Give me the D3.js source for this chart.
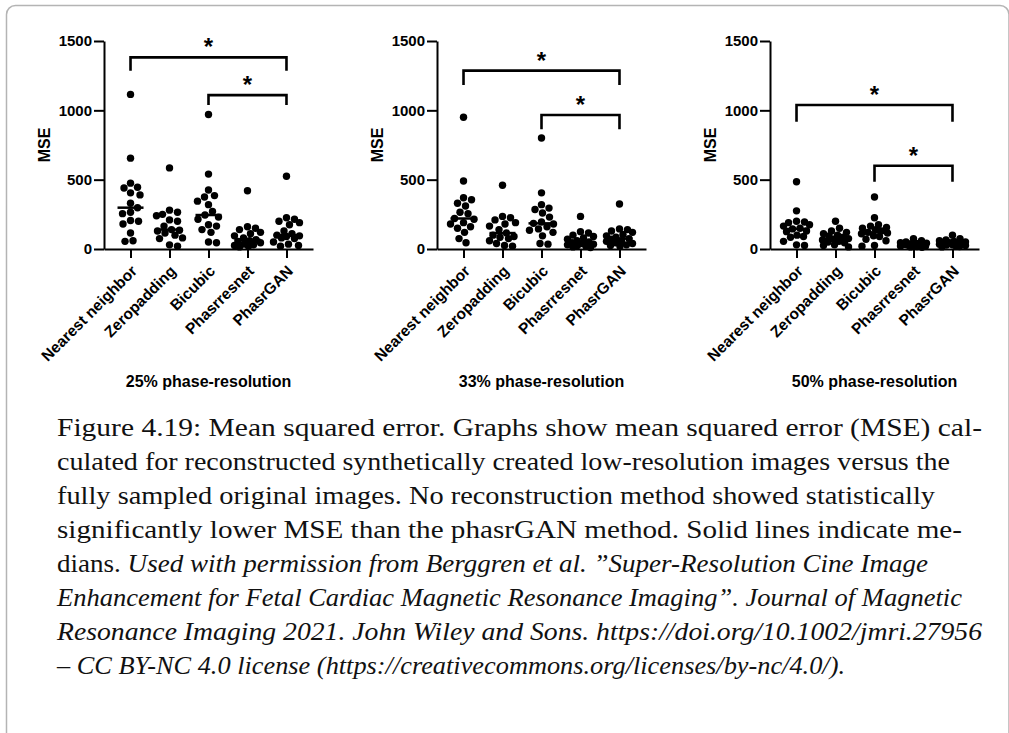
<!DOCTYPE html>
<html>
<head>
<meta charset="utf-8">
<script src="https://cdn.jsdelivr.net/npm/d3@7"></script>
<style>
  html, body { margin: 0; padding: 0; background: #fff; }
  svg { display: block; }
</style>
</head>
<body>
<svg id="fig" width="1009" height="733"></svg>
<script>
// Methods compared in every panel
const categories = ["Nearest neighbor", "Zeropadding", "Bicubic", "Phasrresnet", "PhasrGAN"];
const panelTitles = ["25% phase-resolution", "33% phase-resolution", "50% phase-resolution"];
const yTicks = [0, 500, 1000, 1500];

// MSE per subject, one inner array per method (same order as categories)
const mse25 = [
  [1115, 655, 475, 445, 440, 405, 390, 330, 298, 265, 255, 205, 200, 180, 115, 60, 55],
  [585, 280, 265, 250, 240, 210, 200, 165, 140, 135, 130, 115, 100, 80, 75, 30, 20],
  [970, 540, 425, 385, 375, 345, 320, 270, 245, 230, 215, 175, 165, 140, 120, 50, 45],
  [420, 160, 150, 140, 120, 110, 95, 80, 67, 60, 55, 45, 35, 30, 25, 20, 15],
  [525, 225, 215, 200, 190, 175, 130, 110, 100, 95, 90, 80, 75, 50, 35, 25, 20]
];
const mse33 = [
  [950, 490, 370, 355, 330, 310, 265, 255, 220, 215, 190, 180, 160, 150, 120, 75, 45],
  [460, 235, 225, 210, 190, 180, 165, 140, 115, 100, 90, 85, 75, 60, 40, 25, 20],
  [800, 405, 320, 295, 285, 260, 230, 195, 185, 180, 160, 145, 135, 120, 95, 40, 35],
  [235, 125, 115, 100, 90, 80, 70, 60, 50, 45, 40, 35, 30, 25, 20, 15, 10],
  [325, 145, 140, 130, 120, 105, 95, 85, 75, 70, 60, 55, 45, 40, 30, 25, 20]
];
const mse50 = [
  [485, 275, 200, 195, 190, 175, 165, 150, 145, 130, 125, 100, 90, 85, 55, 30, 25],
  [200, 150, 130, 120, 110, 100, 95, 85, 75, 70, 65, 55, 50, 45, 30, 25, 15],
  [375, 225, 175, 165, 155, 150, 140, 130, 120, 115, 110, 95, 90, 70, 60, 25, 20],
  [75, 60, 50, 45, 42, 40, 38, 35, 32, 30, 28, 25, 22, 20, 18, 15, 12],
  [100, 75, 65, 60, 55, 50, 45, 42, 40, 37, 35, 30, 28, 25, 22, 18, 15]
];

// Significant comparisons (category indices) and their bracket levels [top, leg end] in MSE units
const sigPairs = [[0, 4], [2, 4]];
const brackets25 = [[1382, 1286], [1110, 1038]];
const brackets33 = [[1286, 1182], [966, 863]];
const brackets50 = [[1038, 918], [600, 485]];

const captionLines = [
  [{t: "Figure 4.19: Mean squared error. Graphs show mean squared error (MSE) cal-"}],
  [{t: "culated for reconstructed synthetically created low-resolution images versus the"}],
  [{t: "fully sampled original images. No reconstruction method showed statistically"}],
  [{t: "significantly lower MSE than the phasrGAN method. Solid lines indicate me-"}],
  [{t: "dians. "}, {t: "Used with permission from Berggren et al. \u201DSuper-Resolution Cine Image", i: true}],
  [{t: "Enhancement for Fetal Cardiac Magnetic Resonance Imaging\u201D. Journal of Magnetic", i: true}],
  [{t: "Resonance Imaging 2021. John Wiley and Sons. https://doi.org/10.1002/jmri.27956", i: true}],
  [{t: "\u2013 CC BY-NC 4.0 license (https://creativecommons.org/licenses/by-nc/4.0/).", i: true}]
];
const captionEnds = [982, 950, 935, 962, 928, 962, 982, 845];

const panels = [
  {data: mse25, brackets: brackets25, title: panelTitles[0]},
  {data: mse33, brackets: brackets33, title: panelTitles[1]},
  {data: mse50, brackets: brackets50, title: panelTitles[2]}
];

const svg = d3.select("#fig");
const sans = "'Liberation Sans', Arial, sans-serif";

// Page frame
svg.append("rect")
  .attr("x", 6.5).attr("y", 5.5)
  .attr("width", 1002.5).attr("height", 760)
  .attr("rx", 9)
  .attr("fill", "none")
  .attr("stroke", "#b4b4b4")
  .attr("stroke-width", 1.5);

const plotW = 209, yTop = 41, yBottom = 249;
const r = 3.7;
const maxOff = 13;

// Deterministic swarm layout: spreads overlapping points sideways within a fixed band
function swarm(values, cx, y) {
  const sorted = values.map(v => ({v, cy: y(v)})).sort((a, b) => b.v - a.v);
  const placed = [];
  const minD = 2 * r + 0.6;
  const cands = [0];
  for (let s = 0.5; s <= maxOff; s += 0.5) cands.push(s, -s);
  for (const p of sorted) {
    let best = 0, bestD = -1;
    for (const c of cands) {
      const d = placed.length
        ? d3.min(placed, q => Math.hypot(q.cx - (cx + c), q.cy - p.cy))
        : Infinity;
      if (d >= minD) { best = c; bestD = d; break; }
      if (d > bestD) { bestD = d; best = c; }
    }
    p.cx = cx + best;
    placed.push(p);
  }
  return placed;
}

panels.forEach((panel, pi) => {
  const x0 = 104 + pi * 333;
  const g = svg.append("g");

  const x = d3.scalePoint().domain(categories).range([x0, x0 + plotW]).padding(0.68);
  const y = d3.scaleLinear().domain([0, 1500]).range([yBottom, yTop]);

  // y axis
  const ya = g.append("g")
    .attr("transform", `translate(${x0},0)`)
    .call(d3.axisLeft(y).tickValues(yTicks).tickFormat(d3.format("d"))
      .tickSize(10).tickSizeOuter(0).tickPadding(2));
  ya.select(".domain").attr("stroke-width", 2);
  ya.selectAll(".tick line").attr("stroke-width", 2);
  ya.selectAll(".tick text")
    .attr("font-family", sans).attr("font-weight", "bold").attr("font-size", 15).attr("fill", "#000");

  // x axis
  const xa = g.append("g")
    .attr("transform", `translate(0,${yBottom})`)
    .call(d3.axisBottom(x).tickSize(9).tickSizeOuter(0));
  xa.select(".domain").attr("stroke-width", 2);
  xa.selectAll(".tick line").attr("stroke-width", 2);
  xa.selectAll(".tick text")
    .attr("font-family", sans).attr("font-weight", "bold").attr("font-size", 15.5).attr("fill", "#000")
    .attr("x", 0).attr("y", 0).attr("dy", 0)
    .attr("text-anchor", "end")
    .attr("transform", "translate(7,23) rotate(-45)");

  // y axis title
  g.append("text")
    .attr("transform", `translate(${x0 - 54},${(yTop + yBottom) / 2}) rotate(-90)`)
    .attr("text-anchor", "middle")
    .attr("font-family", sans).attr("font-weight", "bold").attr("font-size", 16)
    .text("MSE");

  // panel title
  g.append("text")
    .attr("x", x0 + plotW / 2).attr("y", 387)
    .attr("text-anchor", "middle")
    .attr("font-family", sans).attr("font-weight", "bold").attr("font-size", 16)
    .text(panel.title);

  // points and medians
  panel.data.forEach((vals, ci) => {
    const cx = x(categories[ci]);
    const pts = swarm(vals, cx, y);
    g.append("g").selectAll("circle").data(pts).join("circle")
      .attr("cx", d => d.cx).attr("cy", d => d.cy).attr("r", r).attr("fill", "#000");
    const med = d3.median(vals);
    g.append("line")
      .attr("x1", cx - 13).attr("x2", cx + 13)
      .attr("y1", y(med)).attr("y2", y(med))
      .attr("stroke", "#000").attr("stroke-width", 2.5);
  });

  // significance brackets
  sigPairs.forEach((pair, bi) => {
    const [top, leg] = panel.brackets[bi];
    const xa1 = x(categories[pair[0]]), xa2 = x(categories[pair[1]]);
    g.append("path")
      .attr("d", `M${xa1},${y(leg)}V${y(top)}H${xa2}V${y(leg)}`)
      .attr("fill", "none").attr("stroke", "#000").attr("stroke-width", 2.6);
    g.append("text")
      .attr("x", (xa1 + xa2) / 2).attr("y", y(top) - 2)
      .attr("text-anchor", "middle")
      .attr("font-family", sans).attr("font-weight", "bold").attr("font-size", 24)
      .text("*");
  });
});

// Caption
const cap = svg.append("g")
  .attr("font-family", "'Liberation Serif', 'Times New Roman', serif")
  .attr("font-size", 25).attr("fill", "#111");
captionLines.forEach((parts, li) => {
  const t = cap.append("text")
    .attr("x", 57).attr("y", 436 + li * 34)
    .attr("textLength", captionEnds[li] - 57)
    .attr("lengthAdjust", "spacingAndGlyphs");
  parts.forEach(p => {
    t.append("tspan").attr("font-style", p.i ? "italic" : "normal").text(p.t);
  });
});
</script>
</body>
</html>
